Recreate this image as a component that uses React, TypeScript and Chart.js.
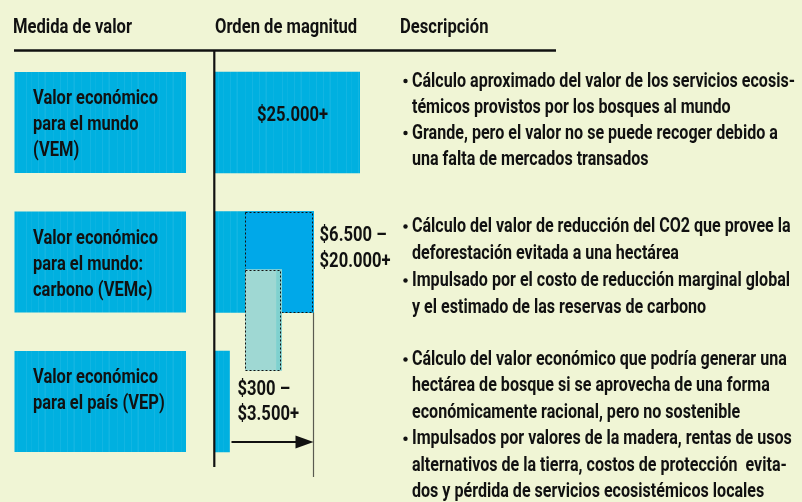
import { useEffect, useRef } from "react";
import { Chart, registerables } from "chart.js";

Chart.register(...registerables);

// ---------- data ----------
const headers = ["Medida de valor", "Orden de magnitud", "Descripción"];
const measureLabels = [
  ["Valor económico", "para el mundo", "(VEM)"],
  ["Valor económico", "para el mundo:", "carbono (VEMc)"],
  ["Valor económico", "para el país (VEP)"],
];
const rows = [0, 1, 2];
// relative length of the magnitude bars (VEM = 100)
const magnitudeEnd = [100, 68, 10];
const carbonRange = [21, 68];
const carbonSubRange = [21, 46];
const carbonSubRow = 1.416;
const arrowRow = 2.29;
const valueLabels = [["$25.000+"], ["$6.500 –", "$20.000+"], ["$300 –", "$3.500+"]];
const descriptions = [
  [
    ["Cálculo aproximado del valor de los servicios ecosis-", "témicos provistos por los bosques al mundo"],
    ["Grande, pero el valor no se puede recoger debido a", "una falta de mercados transados"],
  ],
  [
    ["Cálculo del valor de reducción del CO2 que provee la", "deforestación evitada a una hectárea"],
    ["Impulsado por el costo de reducción marginal global", "y el estimado de las reservas de carbono"],
  ],
  [
    [
      "Cálculo del valor económico que podría generar una",
      "hectárea de bosque si se aprovecha de una forma",
      "económicamente racional, pero no sostenible",
    ],
    [
      "Impulsados por valores de la madera, rentas de usos",
      "alternativos de la tierra, costos de protección  evita-",
      "dos y pérdida de servicios ecosistémicos locales",
    ],
  ],
];

// ---------- style / layout ----------
const FONT = 'Roboto, "Noto Sans", "DejaVu Sans", sans-serif';
const BG = "rgb(240,245,213)";
const BLUE = "#00b0e0";
const BLUE2 = "#00a8e9";
const TEAL = "#9fd8d3";
const TEAL_EDGE = "#7fd1cf";
const INK = "#111111";
const descOffset = [-36, -30, -36.5];
const descSpacing = [26, 27, 26.4];
const labelOffsets = [[-1.5], [-20.8, 4.5], [-6.5, 18.5]];

function makePattern(): CanvasPattern | string {
  const c = document.createElement("canvas");
  c.width = 64;
  c.height = 4;
  const g = c.getContext("2d");
  if (!g) return BLUE;
  g.fillStyle = BLUE;
  g.fillRect(0, 0, 64, 4);
  const lines = [3, 9, 10, 17, 26, 31, 38, 44, 45, 53, 60];
  lines.forEach((x, i) => {
    g.fillStyle = i % 2 ? "rgba(255,255,255,0.04)" : "rgba(255,255,255,0.07)";
    g.fillRect(x, 0, 1, 4);
  });
  return g.createPattern(c, "repeat") || BLUE;
}

// text style groups: size, reference string and its width in the reference
type TextStyle = { size: number; ref: string; width: number; sx?: number };
const styles: Record<string, TextStyle> = {
  header: { size: 20.5, ref: "Medida de valor", width: 119 },
  box: { size: 20.5, ref: "Valor económico", width: 125 },
  desc: { size: 20.5, ref: "Cálculo aproximado del valor de los servicios ecosis-", width: 383 },
  value: { size: 20.5, ref: "$25.000+", width: 71 },
};

function drawText(ctx: CanvasRenderingContext2D, st: TextStyle, text: string, x: number, y: number, align: CanvasTextAlign = "left") {
  ctx.font = `bold ${st.size}px ${FONT}`;
  if (st.sx === undefined) {
    st.sx = st.width / ctx.measureText(st.ref).width;
  }
  ctx.save();
  ctx.translate(x, y);
  ctx.scale(st.sx, 1);
  ctx.textAlign = align;
  ctx.textBaseline = "alphabetic";
  ctx.fillText(text, 0, 0);
  ctx.restore();
}

export default function App() {
  const ref = useRef<HTMLCanvasElement | null>(null);

  useEffect(() => {
    document.body.style.margin = "0";
    const canvas = ref.current;
    if (!canvas) return;
    const pattern = makePattern();

    const plugin = {
      id: "infographic",
      beforeDraw(chart: any) {
        const { ctx, width, height } = chart;
        const ys = chart.scales.y;
        ctx.save();
        ctx.fillStyle = BG;
        ctx.fillRect(0, 0, width, height);
        ctx.fillStyle = INK;
        const hx = [13, 215, 400];
        headers.forEach((h, i) => drawText(ctx, styles.header, h, hx[i], 33));
        rows.forEach((r, i) => {
          const c = ys.getPixelForValue(r);
          ctx.fillStyle = pattern;
          ctx.fillRect(14.5, c - 50.5, 171.5, 101);
          ctx.fillStyle = INK;
          measureLabels[i].forEach((t, j) => drawText(ctx, styles.box, t, 33, c - 18.5 + j * 26));
        });
        ctx.restore();
      },
      afterDatasetDraw(chart: any, args: any) {
        if (args.index !== 1 && args.index !== 2) return;
        const { ctx } = chart;
        const meta = chart.getDatasetMeta(args.index);
        ctx.save();
        meta.data.forEach((el: any) => {
          const p = el.getProps(["x", "y", "base", "height"], true);
          const left = Math.min(p.x, p.base);
          const right = Math.max(p.x, p.base);
          const top = p.y - p.height / 2;
          if (args.index === 2) {
            ctx.fillStyle = TEAL_EDGE;
            ctx.fillRect(right - 5.5, top, 5.5, p.height);
          }
          ctx.strokeStyle = INK;
          ctx.lineWidth = 1;
          ctx.setLineDash([2, 2]);
          ctx.strokeRect(Math.round(left) + 0.5, Math.round(top) + 0.5, Math.round(right - left) - 1, Math.round(p.height) - 1);
        });
        ctx.restore();
      },
      afterDatasetsDraw(chart: any) {
        const { ctx } = chart;
        const xs = chart.scales.x;
        const ys = chart.scales.y;
        ctx.save();
        ctx.setLineDash([]);
        ctx.strokeStyle = INK;
        ctx.lineWidth = 2.5;
        ctx.beginPath();
        ctx.moveTo(14, 50.5);
        ctx.lineTo(556, 50.5);
        ctx.stroke();
        ctx.lineWidth = 2.2;
        ctx.beginPath();
        ctx.moveTo(214.3, 50);
        ctx.lineTo(214.3, 467);
        ctx.stroke();

        const gx = Math.round(xs.getPixelForValue(carbonRange[1])) - 0.5;
        const carbonBottom = ys.getPixelForValue(rows[1]) + 50.5;
        ctx.strokeStyle = "#5a5a50";
        ctx.lineWidth = 1.2;
        ctx.beginPath();
        ctx.moveTo(gx, carbonBottom);
        ctx.lineTo(gx, 477);
        ctx.stroke();

        const ay = ys.getPixelForValue(arrowRow);
        const ax0 = xs.getPixelForValue(magnitudeEnd[2]) + 2;
        const ax1 = gx;
        ctx.strokeStyle = INK;
        ctx.fillStyle = INK;
        ctx.lineWidth = 2;
        ctx.beginPath();
        ctx.moveTo(ax0, ay);
        ctx.lineTo(ax1 - 14, ay);
        ctx.stroke();
        ctx.beginPath();
        ctx.moveTo(ax1, ay);
        ctx.lineTo(ax1 - 18, ay - 6.5);
        ctx.lineTo(ax1 - 18, ay + 6.5);
        ctx.closePath();
        ctx.fill();

        ctx.fillStyle = INK;
        rows.forEach((r, i) => {
          const c = ys.getPixelForValue(r);
          const x0 = xs.getPixelForValue(0);
          const x1 = xs.getPixelForValue(magnitudeEnd[i]);
          valueLabels[i].forEach((t, j) => {
            const y = c + labelOffsets[i][j];
            if (i === 0) drawText(ctx, styles.value, t, (x0 + x1) / 2 + 5, y, "center");
            else drawText(ctx, styles.value, t, x1 + (i === 1 ? 6 : 8), y);
          });
        });

        rows.forEach((r, i) => {
          const c = ys.getPixelForValue(r);
          let y = c + descOffset[i];
          descriptions[i].forEach((bullet) => {
            bullet.forEach((line, k) => {
              if (k === 0) {
                ctx.beginPath();
                ctx.arc(405.5, y - 5.5, 2.2, 0, Math.PI * 2);
                ctx.fill();
              }
              drawText(ctx, styles.desc, line, 412, y);
              y += descSpacing[i];
            });
          });
        });
        ctx.restore();
      },
    };

    const chart = new Chart(canvas, {
      type: "bar",
      data: {
        datasets: [
          {
            label: "Orden de magnitud",
            data: rows.map((r, i) => ({ y: r, x: [0, magnitudeEnd[i]] })) as any,
            backgroundColor: pattern as any,
            barThickness: 101,
            grouped: false,
            order: 3,
          },
          {
            label: "Carbono",
            data: [{ y: rows[1], x: carbonRange }] as any,
            backgroundColor: BLUE2,
            barThickness: 101,
            grouped: false,
            order: 2,
          },
          {
            label: "Carbono parcial",
            data: [{ y: carbonSubRow, x: carbonSubRange }] as any,
            backgroundColor: TEAL,
            barThickness: 101,
            grouped: false,
            order: 1,
          },
        ],
      },
      options: {
        indexAxis: "y",
        responsive: false,
        animation: false,
        devicePixelRatio: 1,
        layout: { padding: { left: 215, right: 442, top: 52.75, bottom: 30.75 } },
        scales: {
          x: { type: "linear", min: 0, max: 100, display: false, offset: false },
          y: { type: "linear", min: -0.5, max: 2.5, reverse: true, display: false, offset: false },
        },
        plugins: { legend: { display: false }, tooltip: { enabled: false } },
      } as any,
      plugins: [plugin],
    });
    return () => chart.destroy();
  }, []);

  return (
    <div style={{ position: "fixed", left: 0, top: 0, width: 802, height: 502 }}>
      <canvas ref={ref} width={802} height={502} style={{ width: 802, height: 502, display: "block" }} />
    </div>
  );
}
